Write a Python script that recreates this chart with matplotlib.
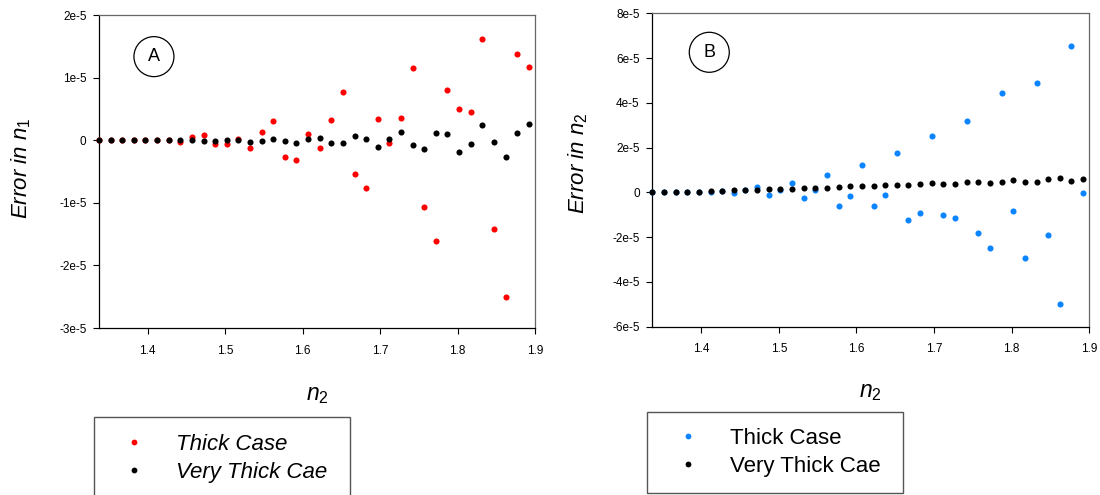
import matplotlib
matplotlib.use("Agg")
import matplotlib.pyplot as plt
from matplotlib.patches import Ellipse, Rectangle
from matplotlib.ticker import FixedLocator, FixedFormatter

plt.rcParams["font.family"] = ["Liberation Sans", "DejaVu Sans"]
plt.rcParams["mathtext.fontset"] = "custom"
plt.rcParams["mathtext.rm"] = "Liberation Sans"
plt.rcParams["mathtext.it"] = "Liberation Sans:italic"
plt.rcParams["mathtext.bf"] = "Liberation Sans:bold"

# refractive index of the second medium
n2 = [1.337, 1.352, 1.367, 1.382, 1.397, 1.412, 1.427, 1.442, 1.457, 1.472,
      1.487, 1.502, 1.517, 1.532, 1.547, 1.562, 1.577, 1.592, 1.607, 1.622,
      1.637, 1.652, 1.667, 1.682, 1.697, 1.712, 1.727, 1.742, 1.757, 1.772,
      1.787, 1.802, 1.817, 1.832, 1.847, 1.862, 1.877, 1.892]

SCALE = 1e-5  # all errors below are given in units of 1e-5

# error in n1
err_n1_thick = [0, 0, 0, 0, 0, 0, 0, -0.03, 0.05, 0.09,
                -0.064, -0.064, 0.02, -0.117, 0.128, 0.314, -0.271, -0.319, 0.106, -0.128,
                0.324, 0.766, -0.537, -0.766, 0.346, -0.048, 0.362, 1.154, -1.069, -1.612,
                0.798, 0.495, 0.447, 1.617, -1.426, -2.505, 1.383, 1.176]
err_n1_very_thick = [0, 0, 0, 0, 0, 0, 0, 0, 0.005, -0.005,
                     -0.016, 0.005, 0.011, -0.021, -0.011, 0.027, -0.011, -0.043, 0.021, 0.043,
                     -0.05, -0.043, 0.069, 0.021, -0.106, 0.016, 0.128, -0.074, -0.133, 0.122,
                     0.096, -0.191, -0.053, 0.239, -0.027, -0.266, 0.112, 0.261]

# error in n2
err_n2_thick = [0, 0, 0, 0, 0, 0, 0.04, -0.03, 0.12, 0.253,
                -0.134, 0.09, 0.44, -0.253, 0.119, 0.759, -0.595, -0.149, 1.205, -0.625,
                -0.119, 1.771, -1.25, -0.94, 2.53, -0.997, -1.161, 3.185, -1.801, -2.47,
                4.42, -0.833, -2.917, 4.881, -1.905, -5.0, 6.518, -0.03]
err_n2_very_thick = [0, 0, 0.015, 0.03, 0.03, 0.06, 0.08, 0.09, 0.10, 0.12,
                     0.13, 0.14, 0.17, 0.2, 0.208, 0.208, 0.253, 0.268, 0.268, 0.283,
                     0.327, 0.327, 0.312, 0.372, 0.402, 0.357, 0.372, 0.461, 0.461, 0.402,
                     0.476, 0.551, 0.476, 0.446, 0.610, 0.625, 0.506, 0.580]

x_ticks = [1.4, 1.5, 1.6, 1.7, 1.8, 1.9]
x_tick_labels = ["1.4", "1.5", "1.6", "1.7", "1.8", "1.9"]
yA_ticks = [-3e-5, -2e-5, -1e-5, 0, 1e-5, 2e-5]
yA_tick_labels = ["-3e-5", "-2e-5", "-1e-5", "0", "1e-5", "2e-5"]
yB_ticks = [-6e-5, -4e-5, -2e-5, 0, 2e-5, 4e-5, 6e-5, 8e-5]
yB_tick_labels = ["-6e-5", "-4e-5", "-2e-5", "0", "2e-5", "4e-5", "6e-5", "8e-5"]
series_labels = ["Thick Case", "Very Thick Cae"]

RED = "#ff0000"
BLUE = "#0a84ff"
MS = 4.4

W, H = 1100, 495
fig = plt.figure(figsize=(W / 100, H / 100), dpi=100)

def px_axes(l, r, t, b):
    return fig.add_axes([l / W, 1 - b / H, (r - l) / W, (b - t) / H])

axA = px_axes(99, 535, 15, 328)
axB = px_axes(652.3, 1089.3, 13.3, 326.7)

def style(ax, yticks, ylabels, ylim):
    ax.set_xlim(n2[0], 1.9)
    ax.set_ylim(*ylim)
    ax.xaxis.set_major_locator(FixedLocator(x_ticks))
    ax.xaxis.set_major_formatter(FixedFormatter(x_tick_labels))
    ax.yaxis.set_major_locator(FixedLocator(yticks))
    ax.yaxis.set_major_formatter(FixedFormatter(ylabels))
    ax.tick_params(direction="out", length=4, width=0.8, labelsize=8.5, pad=5,
                   colors="#000000")
    ax.tick_params(axis="x", pad=8)
    for side in ("left", "bottom"):
        ax.spines[side].set_color("#000000")
        ax.spines[side].set_linewidth(0.9)
    for side in ("top", "right"):
        ax.spines[side].set_color("#666666")
        ax.spines[side].set_linewidth(0.9)

def scatter(ax, ys, color, z):
    return ax.plot(n2, [v * SCALE for v in ys], linestyle="none", marker="o",
                   ms=MS, mfc=color, mec="none", clip_on=False, zorder=z)[0]

# panel A
hA1 = scatter(axA, err_n1_thick, RED, 3)
hA2 = scatter(axA, err_n1_very_thick, "#000000", 4)
style(axA, yA_ticks, yA_tick_labels, (-3e-5, 2e-5))
axA.set_ylabel(r"$\mathit{Error\ in\ n}_{\mathit{1}}$", fontsize=16)
axA.yaxis.set_label_coords((33 - 99) / 436, 0.511)
axA.set_xlabel(r"$\mathit{n}_{2}$", fontsize=16.5)
axA.xaxis.set_label_coords(0.5, -(383 - 328) / 313)

# panel B
hB1 = scatter(axB, err_n2_thick, BLUE, 3)
hB2 = scatter(axB, err_n2_very_thick, "#000000", 4)
style(axB, yB_ticks, yB_tick_labels, (-6e-5, 8e-5))
axB.set_ylabel(r"$\mathit{Error\ in\ n}_{\mathit{2}}$", fontsize=16)
axB.yaxis.set_label_coords((590 - 652.3) / 437, 0.522)
axB.set_xlabel(r"$\mathit{n}_{2}$", fontsize=16.5)
axB.xaxis.set_label_coords(0.5, -(380 - 326.7) / 313.4)

# panel tags
for ax, (cx, cy), tag, (wpx, hpx) in [
        (axA, (0.126, 0.867), "A", (436, 313)),
        (axB, (0.1304, 0.8756), "B", (437, 313.4))]:
    ax.add_patch(Ellipse((cx, cy), 40 / wpx, 40 / hpx, transform=ax.transAxes,
                         fill=False, ec="#000000", lw=0.9, clip_on=False))
    ax.text(cx, cy, tag, transform=ax.transAxes, ha="center", va="center",
            fontsize=13)

# legend frames
fig.add_artist(Rectangle((94 / W, -0.05), (350 - 94) / W, 0.05 + 1 - 417 / H,
                         transform=fig.transFigure, fill=False, ec="#555555", lw=1.0))
fig.add_artist(Rectangle((646.5 / W, 1 - 493 / H), (902.7 - 646.5) / W, (493 - 412.4) / H,
                         transform=fig.transFigure, fill=False, ec="#555555", lw=1.0))

legA = fig.legend([hA1, hA2], series_labels, loc="upper left",
                  bbox_to_anchor=(123 / W, 1 - 434 / H), frameon=False,
                  prop={"size": 16, "style": "italic"}, handlelength=1.0,
                  handletextpad=1.4, labelspacing=0.3, borderpad=0,
                  borderaxespad=0, markerscale=0.95)
legB = fig.legend([hB1, hB2], series_labels, loc="upper left",
                  bbox_to_anchor=(676.4 / W, 1 - 428 / H), frameon=False,
                  prop={"size": 16}, handlelength=1.0,
                  handletextpad=1.4, labelspacing=0.3, borderpad=0,
                  borderaxespad=0, markerscale=0.95)

fig.savefig("out.png", dpi=100)
